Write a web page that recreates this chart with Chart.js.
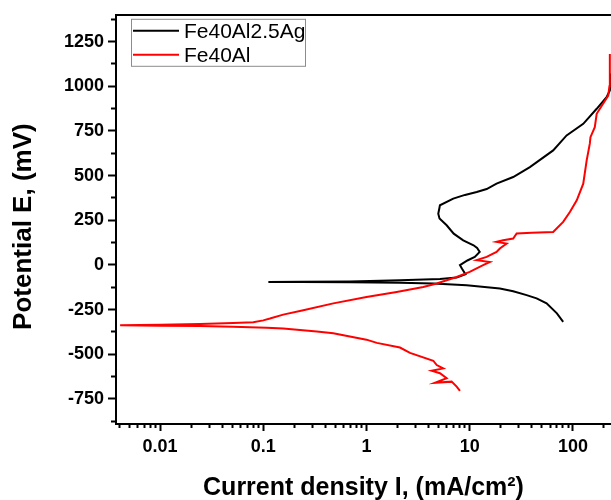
<!DOCTYPE html>
<html>
<head>
<meta charset="utf-8">
<style>
  html, body { margin: 0; padding: 0; background: #fff; overflow: hidden; }
  canvas { display: block; }
</style>
</head>
<body>
<canvas id="chart" width="611" height="500"></canvas>
<script src="https://cdn.jsdelivr.net/npm/chart.js@4.4.1/dist/chart.umd.min.js"></script>
<script>
// Fe40Al2.5Ag polarization curve (cathodic end -> Ecorr -> anodic)
var agCurrent = [80.5, 70, 55.6, 44.5, 35.6, 26.4, 19.6, 9.34, 4.44, 2.11,
  0.69, 0.227, 0.112, 0.227, 0.69, 2.11, 5.15, 7.48, 9.1, 8.4,
  8.05, 9.5, 11.2, 12.5, 11.8, 10.9, 8.66, 7.0, 5.98, 5.1,
  4.96, 5.15, 6.93, 9.0, 11.7, 14.6, 18.2, 26.4, 38.3, 64.4,
  86.9, 126, 170, 212, 228, 233];
var agPotential = [-318, -271, -215, -187, -169, -147, -132, -113, -104, -100,
  -97, -96, -95, -94, -92, -86, -78, -70, -52, -20,
  -1, 25, 45, 73, 95, 110, 138, 175, 222, 260,
  287, 334, 371, 392, 408, 425, 455, 492, 548, 641,
  725, 790, 874, 939, 976, 1071];

// Fe40Al polarization curve
var alCurrent = [8.05, 7.48, 6.68, 4.61, 5.98, 5.15, 4.28, 5.54, 4.79, 4.44,
  2.64, 2.11, 1.26, 1.0, 0.69, 0.477, 0.33, 0.156, 0.108, 0.051,
  0.0244, 0.01, 0.0041, 0.01, 0.0244, 0.051, 0.08, 0.1, 0.116, 0.156,
  0.244, 0.477, 1.0, 1.96, 3.55, 4.79, 7.48, 10.0, 13.5, 15.7,
  11.7, 14.6, 18.2, 19.6, 22.8, 18.2, 21.1, 26.4, 28.5, 40,
  64.4, 80.5, 93.5, 109, 126, 136, 146, 148, 163, 170,
  196, 220, 226, 228];
var alPotential = [-705, -681, -653, -659, -634, -606, -592, -579, -560, -536,
  -492, -462, -436, -418, -400, -382, -372, -356, -352, -346,
  -342, -340, -337, -335, -331, -325, -320, -310, -300, -278,
  -253, -215, -179, -151, -123, -104, -67, -39, -1, 17,
  27, 45, 73, 92, 120, 129, 138, 148, 176, 180,
  185, 241, 296, 362, 455, 585, 680, 715, 771, 846,
  902, 948, 1000, 1181];

var seriesNames = ["Fe40Al2.5Ag", "Fe40Al"];

var xTickValues = [0.01, 0.1, 1, 10, 100];
var xTickLabels = ["0.01", "0.1", "1", "10", "100"];
var yTickValues = [-750, -500, -250, 0, 250, 500, 750, 1000, 1250];
var yTickLabels = ["-750", "-500", "-250", "0", "250", "500", "750", "1000", "1250"];

var X_MIN = 0.00374, X_MAX = 234;
var Y_MIN = -890, Y_MAX = 1400;

var xMinorValues = [];
for (let e = -3; e <= 2; e++) {
  for (let m = 2; m <= 9; m++) {
    let v = m * Math.pow(10, e);
    if (v >= X_MIN && v <= X_MAX) xMinorValues.push(v);
  }
}
var yMinorValues = [];
for (let v = -875; v <= 1375; v += 250) yMinorValues.push(v);

var fontFamily = "'Liberation Sans', Arial, sans-serif";
Chart.defaults.font.family = fontFamily;
Chart.defaults.color = "#000";

function toPoints(xs, ys) {
  return xs.map((x, i) => ({ x: x, y: ys[i] }));
}

function setTicks(values) {
  return function (scale) {
    scale.ticks = values.map((v) => ({ value: v }));
  };
}

var legendBox = {
  id: "legendBox",
  afterDraw(chart) {
    let c = chart.ctx;
    let area = chart.chartArea;
    let x = area.left + 15;
    let y = area.top + 4;
    c.save();
    c.strokeStyle = "#8c8c8c";
    c.lineWidth = 1;
    c.strokeRect(x + 0.5, y + 0.5, 174, 47);
    c.font = "21px " + fontFamily;
    c.textBaseline = "middle";
    chart.data.datasets.forEach((ds, i) => {
      let ly = y + 12 + i * 24;
      c.strokeStyle = ds.borderColor;
      c.lineWidth = 2;
      c.beginPath();
      c.moveTo(x + 2, ly);
      c.lineTo(x + 48, ly);
      c.stroke();
      c.fillStyle = "#000";
      c.fillText(ds.label, x + 53, ly + 1);
    });
    c.restore();
  },
};

var chart = new Chart("chart", {
  type: "scatter",
  data: {
    datasets: [
      {
        label: seriesNames[0],
        data: toPoints(agCurrent, agPotential),
        borderColor: "#000000",
        borderWidth: 2,
        showLine: true,
        pointRadius: 0,
        tension: 0,
        order: 1,
        xAxisID: "x",
        yAxisID: "y",
      },
      {
        label: seriesNames[1],
        data: toPoints(alCurrent, alPotential),
        borderColor: "#ff0000",
        borderWidth: 2,
        showLine: true,
        pointRadius: 0,
        tension: 0,
        order: 0,
        xAxisID: "x",
        yAxisID: "y",
      },
    ],
  },
  options: {
    responsive: false,
    devicePixelRatio: 1,
    animation: false,
    layout: { padding: 0 },
    plugins: {
      legend: { display: false },
      tooltip: { enabled: false },
    },
    scales: {
      x: {
        type: "logarithmic",
        position: "bottom",
        weight: 1,
        min: X_MIN,
        max: X_MAX,
        bounds: "data",
        afterBuildTicks: setTicks(xTickValues),
        afterFit: (s) => { s.height = 76; },
        ticks: {
          autoSkip: false,
          maxRotation: 0,
          padding: 5,
          font: { size: 18, weight: "bold" },
          callback: (v, i) => xTickLabels[i],
        },
        grid: { drawOnChartArea: false, tickLength: 7, tickWidth: 2, tickColor: "#000" },
        border: { color: "#000", width: 2 },
        title: {
          display: true,
          text: "Current density I, (mA/cm²)",
          font: { size: 25, weight: "bold", lineHeight: 0.92 },
          padding: 0,
        },
      },
      xMinor: {
        type: "logarithmic",
        position: "bottom",
        weight: 0,
        min: X_MIN,
        max: X_MAX,
        bounds: "data",
        afterBuildTicks: setTicks(xMinorValues),
        afterFit: (s) => { s.height = 0; },
        ticks: { display: false, autoSkip: false },
        grid: { drawOnChartArea: false, tickLength: 4, tickWidth: 2, tickColor: "#000" },
        border: { display: false },
      },
      xTop: {
        type: "linear",
        position: "top",
        min: 0,
        max: 1,
        afterFit: (s) => { s.height = 13; },
        ticks: { display: false },
        grid: { display: false },
        border: { color: "#000", width: 2 },
      },
      y: {
        type: "linear",
        position: "left",
        weight: 1,
        min: Y_MIN,
        max: Y_MAX,
        bounds: "data",
        afterBuildTicks: setTicks(yTickValues),
        afterFit: (s) => { s.width = 116; },
        ticks: {
          autoSkip: false,
          padding: 4,
          font: { size: 18, weight: "bold" },
          callback: (v, i) => yTickLabels[i],
        },
        grid: { drawOnChartArea: false, tickLength: 8, tickWidth: 2, tickColor: "#000" },
        border: { color: "#000", width: 2 },
        title: {
          display: true,
          text: "Potential E, (mV)  ",
          font: { size: 26, weight: "bold" },
          padding: { top: 8, bottom: 0 },
        },
      },
      yMinor: {
        type: "linear",
        position: "left",
        weight: 0,
        min: Y_MIN,
        max: Y_MAX,
        bounds: "data",
        afterBuildTicks: setTicks(yMinorValues),
        afterFit: (s) => { s.width = 0; },
        ticks: { display: false, autoSkip: false },
        grid: { drawOnChartArea: false, tickLength: 5, tickWidth: 2, tickColor: "#000" },
        border: { display: false },
      },
    },
  },
  plugins: [legendBox],
});
</script>
</body>
</html>
